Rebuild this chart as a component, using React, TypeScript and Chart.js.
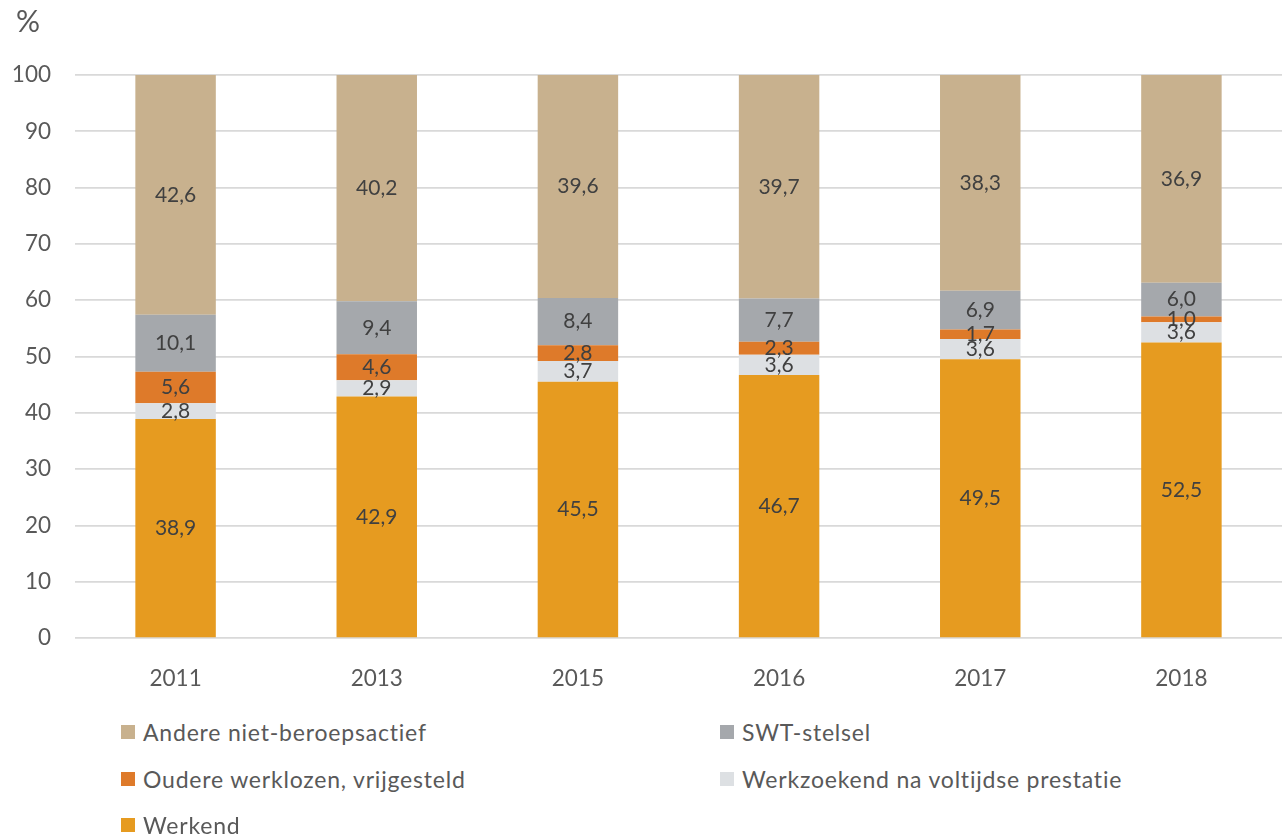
import React, { useEffect, useRef } from "react";
import { Chart, registerables } from "chart.js";

Chart.register(...registerables);

const years = ["2011", "2013", "2015", "2016", "2017", "2018"];
const werkend = [38.9, 42.9, 45.5, 46.7, 49.5, 52.5];
const werkzoekend = [2.8, 2.9, 3.7, 3.6, 3.6, 3.6];
const oudere = [5.6, 4.6, 2.8, 2.3, 1.7, 1.0];
const swt = [10.1, 9.4, 8.4, 7.7, 6.9, 6.0];
const andere = [42.6, 40.2, 39.6, 39.7, 38.3, 36.9];
const yTicks = [0, 10, 20, 30, 40, 50, 60, 70, 80, 90, 100];

const FONT = "Lato, 'Open Sans', sans-serif";
const TEXT = "#595959";

const series = [
  { label: "Werkend", data: werkend, color: "#E69B20" },
  { label: "Werkzoekend na voltijdse prestatie", data: werkzoekend, color: "#DDE0E3" },
  { label: "Oudere werklozen, vrijgesteld", data: oudere, color: "#DE7A2A" },
  { label: "SWT-stelsel", data: swt, color: "#A5A8AC" },
  { label: "Andere niet-beroepsactief", data: andere, color: "#C8B18E" },
];

const legendOrder = [
  { label: "Andere niet-beroepsactief", color: "#C8B18E", x: 121, y: 732 },
  { label: "SWT-stelsel", color: "#A5A8AC", x: 720, y: 732 },
  { label: "Oudere werklozen, vrijgesteld", color: "#DE7A2A", x: 121, y: 779 },
  { label: "Werkzoekend na voltijdse prestatie", color: "#DDE0E3", x: 720, y: 779 },
  { label: "Werkend", color: "#E69B20", x: 121, y: 825 },
];

const labelPlugin = {
  id: "segLabels",
  afterDatasetsDraw(chart: any) {
    const ctx = chart.ctx;
    ctx.save();
    ctx.font = `21px ${FONT}`;
    ctx.fillStyle = "#404040";
    ctx.textAlign = "center";
    ctx.textBaseline = "middle";
    chart.data.datasets.forEach((ds: any, i: number) => {
      const meta = chart.getDatasetMeta(i);
      meta.data.forEach((bar: any, j: number) => {
        const v = ds.data[j];
        const yc = (bar.y + bar.base) / 2;
        ctx.fillText(v.toFixed(1).replace(".", ","), bar.x, yc);
      });
    });
    ctx.restore();
  },
};

export default function App() {
  const ref = useRef<HTMLCanvasElement>(null);
  useEffect(() => {
    if (!ref.current) return;
    const chart = new Chart(ref.current, {
      type: "bar",
      data: {
        labels: years,
        datasets: series.map((s) => ({
          label: s.label,
          data: s.data,
          backgroundColor: s.color,
          borderWidth: 0,
          categoryPercentage: 1,
          barPercentage: 0.4,
        })),
      },
      options: {
        animation: false,
        responsive: false,
        maintainAspectRatio: false,
        layout: { padding: { top: 75, right: -4, left: 0, bottom: 0 } },
        plugins: { legend: { display: false }, tooltip: { enabled: false } },
        scales: {
          x: {
            stacked: true,
            grid: { display: false },
            border: { display: false },
            ticks: { color: TEXT, font: { family: FONT, size: 22.5 }, padding: 19 },
            afterFit(scale: any) {
              scale.height = 62;
            },
          },
          y: {
            stacked: true,
            min: 0,
            max: 100,
            afterBuildTicks(scale: any) {
              scale.ticks = yTicks.map((v) => ({ value: v }));
            },
            grid: { color: "#D9D9D9", lineWidth: 1.7, drawTicks: false },
            border: { display: false },
            ticks: { color: TEXT, font: { family: FONT, size: 22.5 }, padding: 24 },
            afterFit(scale: any) {
              scale.width = 75;
            },
          },
        },
      },
      plugins: [labelPlugin],
    });
    return () => chart.destroy();
  }, []);

  return (
    <div style={{ position: "fixed", left: 0, top: 0, width: 1282, height: 838, background: "#fff", fontFamily: FONT, color: TEXT }}>
      <canvas ref={ref} width={1282} height={700} style={{ position: "absolute", left: 0, top: 0 }} />
      <div style={{ position: "absolute", left: 16, top: 2, fontSize: 30 }}>%</div>
      {legendOrder.map((l) => (
        <div key={l.label} style={{ position: "absolute", left: l.x, top: l.y - 16, height: 32, display: "flex", alignItems: "center", fontSize: 23, letterSpacing: 0.8, whiteSpace: "nowrap" }}>
          <span style={{ display: "inline-block", width: 14, height: 14, background: l.color, marginRight: 8 }} />
          <span>{l.label}</span>
        </div>
      ))}
    </div>
  );
}
